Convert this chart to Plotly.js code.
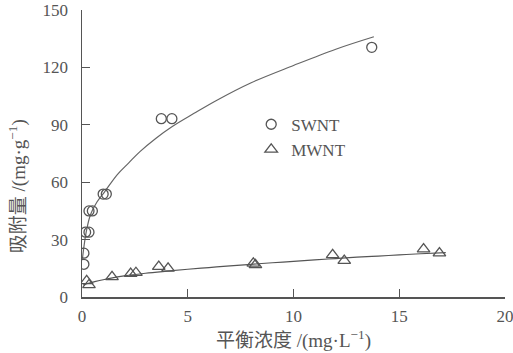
<!DOCTYPE html>
<html>
<head>
<meta charset="utf-8">
<script src="https://cdn.plot.ly/plotly-3.0.1.min.js"></script>
<style>html,body{margin:0;padding:0;background:#fff;}#chart{width:513px;height:353px;}</style>
</head>
<body>
<div id="chart"></div>
<script>
// Measured points
const swntX = [0.09, 0.09, 0.17, 0.33, 0.33, 0.49, 1.0, 1.15, 3.75, 4.25, 13.7];
const swntY = [17.1, 22.9, 33.9, 33.9, 45.0, 45.0, 53.8, 53.8, 93.2, 93.2, 130.5];
const mwntX = [0.22, 0.33, 1.42, 2.3, 2.55, 3.63, 4.07, 8.1, 8.2, 11.85, 12.4, 16.15, 16.9];
const mwntY = [8.4, 6.3, 10.5, 12.2, 12.7, 15.9, 15.0, 17.6, 16.8, 22.0, 19.0, 25.0, 22.9];
// Fitted curves
const swntCurveX = [0.02, 0.1, 0.2, 0.4, 0.7, 1.07, 1.67, 2.2, 2.74, 3.5, 4.25, 5.3, 6.4, 8, 10, 12, 13.8];
const swntCurveY = [20, 27, 34, 43, 49.5, 55, 64, 70, 76, 83, 89, 96, 103, 112, 121, 129.5, 136];
const mwntCurveX = [0.05, 0.3, 0.6, 1, 1.5, 2, 3, 4, 5, 6, 7, 8, 9, 10, 11, 12, 13, 14, 15, 16, 17.2];
const mwntCurveY = [6.3, 7.2, 8.0, 9.0, 10.1, 11.0, 12.4, 13.5, 14.5, 15.4, 16.3, 17.1, 17.9, 18.6, 19.4, 20.1, 20.8, 21.4, 22.0, 22.6, 23.2];
const xTicks = [0, 5, 10, 15, 20];
const yTicks = [0, 30, 60, 90, 120, 150];
const seriesNames = ['SWNT', 'MWNT'];
const xTitle = '平衡浓度 /(mg·L<sup>−1</sup>)';
const yTitle = '吸附量 /(mg·g<sup>−1</sup>)';

const ink = '#555555';
const fontFam = '"Liberation Serif", "Noto Sans CJK SC", serif';

const traces = [
  {x: swntCurveX, y: swntCurveY, mode: 'lines', line: {color: '#666', width: 1.2, shape: 'spline'}, showlegend: false, hoverinfo: 'skip'},
  {x: mwntCurveX, y: mwntCurveY, mode: 'lines', line: {color: '#555', width: 1.2, shape: 'spline'}, showlegend: false, hoverinfo: 'skip'},
  {x: swntX, y: swntY, mode: 'markers', name: seriesNames[0],
   marker: {symbol: 'circle-open', size: 10, color: ink, line: {width: 1.3, color: ink}}},
  {x: mwntX, y: mwntY, mode: 'markers', name: seriesNames[1],
   marker: {symbol: 'triangle-up-open', size: 11, color: ink, line: {width: 1.3, color: ink}}}
];

const layout = {
  width: 513, height: 353,
  margin: {l: 82, r: 8, t: 10, b: 56},
  paper_bgcolor: '#fff', plot_bgcolor: '#fff',
  font: {family: fontFam, color: ink, size: 17},
  xaxis: {
    range: [0, 20], tickvals: xTicks, ticktext: xTicks.map(String),
    ticks: 'inside', ticklen: 8, tickwidth: 1.3, tickcolor: ink,
    showline: true, linecolor: ink, linewidth: 1.5, showgrid: false, zeroline: false,
    ticklabeloverflow: 'allow', ticklabelstandoff: 3,
    tickfont: {family: fontFam, size: 17, color: ink},
    title: {text: xTitle, font: {family: fontFam, size: 19, color: ink}, standoff: 9}
  },
  yaxis: {
    range: [0, 150], tickvals: yTicks, ticktext: yTicks.map(String),
    ticks: 'inside', ticklen: 8, tickwidth: 1.3, tickcolor: ink,
    showline: true, linecolor: ink, linewidth: 1.5, showgrid: false, zeroline: false,
    ticklabeloverflow: 'allow', ticklabelstandoff: 9,
    tickfont: {family: fontFam, size: 17, color: ink}
  },
  annotations: [{
    text: yTitle, textangle: -90, xref: 'paper', yref: 'paper',
    x: -0.152, y: 0.385, xanchor: 'center', yanchor: 'middle', showarrow: false,
    font: {family: fontFam, size: 19, color: ink}
  }],
  legend: {
    x: 0.4, y: 0.663, xanchor: 'left', yanchor: 'top',
    bgcolor: 'rgba(0,0,0,0)', font: {family: fontFam, size: 17, color: ink},
    itemwidth: 30, tracegroupgap: 0
  },
  showlegend: true
};

Plotly.newPlot('chart', traces, layout, {staticPlot: true, displayModeBar: false});
</script>
</body>
</html>
